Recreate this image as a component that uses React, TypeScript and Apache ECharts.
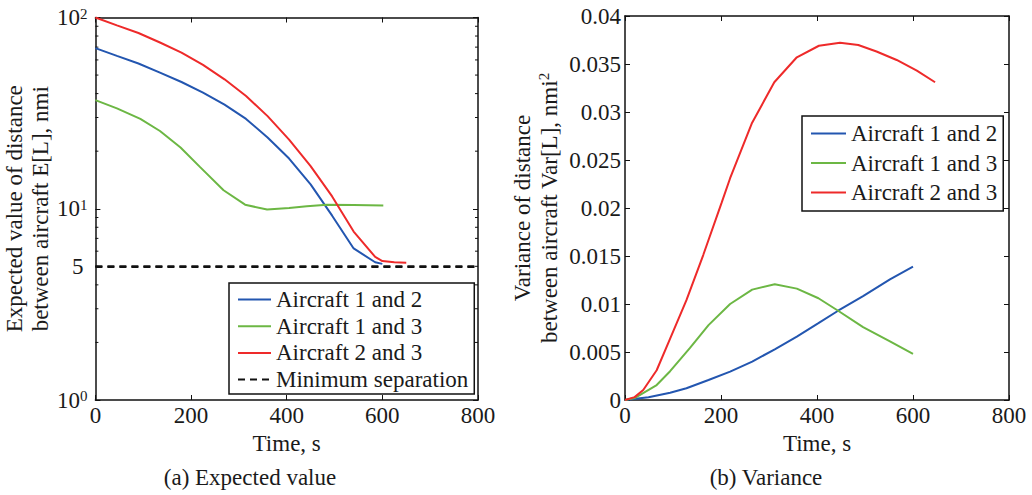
import { useEffect, useRef } from 'react';
import * as echarts from 'echarts';

const FONT = "'Liberation Serif', Times, serif";
const TXT = '#1a1a1a';

// ---- (a) Expected value (log scale) ----
const tBlueA = [0, 45, 90, 135, 180, 225, 270, 315, 360, 405, 450, 495, 540, 585, 600];
const eBlue = [69.2, 63, 57.5, 51.5, 46, 40.5, 35, 29.5, 23.6, 18.3, 13.4, 9.2, 6.2, 5.25, 5.15];
const tGreenA = [0, 45, 94, 135, 178, 219, 268, 313, 359, 405, 442, 484, 540, 602];
const eGreen = [37, 33.5, 29.5, 25.5, 20.9, 16.5, 12.5, 10.5, 9.9, 10.1, 10.3, 10.5, 10.45, 10.4];
const tRedA = [0, 45, 90, 135, 180, 225, 270, 315, 360, 405, 450, 495, 540, 585, 600, 625, 650];
const eRed = [100, 91, 83, 74, 65.5, 56.5, 47.5, 38.9, 30.5, 23, 16.7, 11.6, 7.6, 5.6, 5.33, 5.25, 5.22];
const minSepT = [0, 800];
const minSepV = [5, 5];
const logMinorTicks = [2, 3, 4, 5, 6, 7, 8, 9, 20, 30, 40, 50, 60, 70, 80, 90];

// ---- (b) Variance ----
const tBlueB = [0, 49, 94, 128, 174, 219, 265, 312, 358, 403, 444, 496, 552, 600];
const vBlue = [0, 0.00028, 0.00076, 0.00122, 0.00208, 0.00295, 0.004, 0.00528, 0.0066, 0.008, 0.0093, 0.01083, 0.01257, 0.01389];
const tGreenB = [0, 20, 66, 94, 135, 174, 219, 265, 312, 358, 403, 444, 496, 552, 600];
const vGreen = [0, 0.0002, 0.00156, 0.003, 0.0054, 0.0078, 0.01, 0.0115, 0.01205, 0.0116, 0.0106, 0.0093, 0.0076, 0.0061, 0.0048];
const tRedB = [0, 20, 38, 66, 94, 128, 163, 201, 219, 264, 311, 358, 404, 448, 486, 524, 566, 608, 646];
const vRed = [0, 0.0003, 0.00104, 0.0031, 0.0064, 0.0104, 0.0151, 0.0205, 0.0231, 0.0288, 0.0331, 0.0357, 0.0369, 0.03722, 0.03698, 0.0363, 0.03542, 0.0343, 0.0331];

const NAMES = ['Aircraft 1 and 2', 'Aircraft 1 and 3', 'Aircraft 2 and 3', 'Minimum separation'];
const COLORS = ['#2356b0', '#6cb744', '#ee2a2a', '#111111'];

const zip = (t: number[], v: number[]) => t.map((x, i) => [x, v[i]]);

const textBase = {
  fontFamily: FONT,
  fontSize: 23,
  color: TXT,
  fontWeight: 'normal',
  fontStyle: 'normal',
  textBorderWidth: 0,
  textBorderColor: 'transparent',
  textShadowBlur: 0,
};
const DASH = [7, 5];

function xAx(grid: number, top: boolean) {
  return {
    gridIndex: grid,
    type: 'value',
    position: top ? 'top' : 'bottom',
    min: 0,
    max: 800,
    interval: 200,
    axisLine: { show: true, onZero: false, lineStyle: { color: '#111', width: 1.5 } },
    axisTick: { show: true, inside: true, length: 5, lineStyle: { color: '#111', width: 1 } },
    axisLabel: { show: !top, margin: 4, ...textBase },
    splitLine: { show: false },
    name: top ? '' : 'Time, s',
    nameLocation: 'middle',
    nameGap: 27,
    nameTextStyle: textBase,
  };
}

const supRich = {
  base: { ...textBase, lineHeight: 23, verticalAlign: 'bottom', padding: [6, 0, 0, 0] },
  sup: { ...textBase, fontSize: 15, lineHeight: 15, verticalAlign: 'top' },
};

const legendCommon = {
  orient: 'vertical',
  itemHeight: 4,
  selectedMode: false,
  borderColor: '#111',
  borderWidth: 1.5,
  borderRadius: 0,
  backgroundColor: '#fff',
  itemStyle: { opacity: 0 },
  textStyle: { ...textBase },
};

const option: any = {
  animation: false,
  backgroundColor: '#fff',
  textStyle: { fontFamily: FONT },
  grid: [
    { left: 95, top: 17, width: 383, height: 383 },
    { left: 625, top: 16, width: 384, height: 384 },
  ],
  xAxis: [xAx(0, false), xAx(0, true), xAx(1, false), xAx(1, true)],
  yAxis: [
    {
      gridIndex: 0,
      type: 'log',
      logBase: 10,
      min: 1,
      max: 100,
      axisLine: { show: true, onZero: false, lineStyle: { color: '#111', width: 1.5 } },
      axisTick: { show: true, inside: true, length: 5, lineStyle: { color: '#111', width: 1 } },
      axisLabel: {
        margin: 8,
        ...textBase,
        formatter: (v: number) => '{base|10}{sup|' + Math.round(Math.log10(v)) + '}',
        rich: supRich,
      },
      splitLine: { show: false },
      name: 'Expected value of distance\nbetween aircraft E[L], nmi',
      nameLocation: 'middle',
      nameGap: 40,
      nameRotate: 90,
      nameTextStyle: { ...textBase, lineHeight: 26 },
    },
    {
      gridIndex: 0,
      type: 'log',
      logBase: 10,
      min: 1,
      max: 100,
      position: 'right',
      axisLine: { show: true, onZero: false, lineStyle: { color: '#111', width: 1.5 } },
      axisTick: { show: true, inside: true, length: 5, lineStyle: { color: '#111', width: 1 } },
      axisLabel: { show: false },
      splitLine: { show: false },
    },
    {
      gridIndex: 1,
      type: 'value',
      min: 0,
      max: 0.04,
      interval: 0.005,
      axisLine: { show: true, onZero: false, lineStyle: { color: '#111', width: 1.5 } },
      axisTick: { show: true, inside: true, length: 5, lineStyle: { color: '#111', width: 1 } },
      axisLabel: { margin: 4, ...textBase },
      splitLine: { show: false },
      name: 'Variance of distance\nbetween aircraft Var[L], nmi{sup|2}',
      nameLocation: 'middle',
      nameGap: 62,
      nameRotate: 90,
      nameTextStyle: {
        ...textBase,
        lineHeight: 27,
        rich: { sup: { ...textBase, fontSize: 15, lineHeight: 15, verticalAlign: 'top' } },
      },
    },
    {
      gridIndex: 1,
      type: 'value',
      min: 0,
      max: 0.04,
      interval: 0.005,
      position: 'right',
      axisLine: { show: true, onZero: false, lineStyle: { color: '#111', width: 1.5 } },
      axisTick: { show: true, inside: true, length: 5, lineStyle: { color: '#111', width: 1 } },
      axisLabel: { show: false },
      splitLine: { show: false },
    },
  ],
  legend: [
    {
      ...legendCommon,
      data: NAMES,
      left: 229,
      top: 283,
      padding: [5, 6, 3, 8],
      itemGap: 3.7,
      itemWidth: 33,
    },
    {
      ...legendCommon,
      data: NAMES.slice(0, 3),
      left: 802,
      top: 116,
      padding: [6, 6, 7, 8],
      itemGap: 6.5,
      itemWidth: 35,
    },
  ],
  graphic: [
    { type: 'text', x: 250, y: 477, style: { text: '(a) Expected value', font: "23px 'Liberation Serif'", fill: TXT, textAlign: 'center', textVerticalAlign: 'middle' } },
    { type: 'text', x: 766, y: 477, style: { text: '(b) Variance', font: "23px 'Liberation Serif'", fill: TXT, textAlign: 'center', textVerticalAlign: 'middle' } },
  ],
  series: [
    { name: NAMES[0], type: 'line', xAxisIndex: 0, yAxisIndex: 0, data: zip(tBlueA, eBlue), symbol: 'none', lineStyle: { color: COLORS[0], width: 2 }, itemStyle: { color: COLORS[0] } },
    { name: NAMES[1], type: 'line', xAxisIndex: 0, yAxisIndex: 0, data: zip(tGreenA, eGreen), symbol: 'none', lineStyle: { color: COLORS[1], width: 2 }, itemStyle: { color: COLORS[1] } },
    { name: NAMES[2], type: 'line', xAxisIndex: 0, yAxisIndex: 0, data: zip(tRedA, eRed), symbol: 'none', lineStyle: { color: COLORS[2], width: 2 }, itemStyle: { color: COLORS[2] } },
    {
      name: NAMES[3], type: 'line', xAxisIndex: 0, yAxisIndex: 0, data: zip(minSepT, minSepV), symbol: 'none',
      lineStyle: { color: COLORS[3], width: 2, type: DASH }, itemStyle: { color: COLORS[3] },
      markLine: {
        silent: true, symbol: 'none',
        lineStyle: { color: COLORS[3], width: 2, type: DASH },
        label: { show: true, position: 'start', formatter: '5', distance: 12, ...textBase },
        data: [{ yAxis: 5 }],
      },
    },
    {
      type: 'custom', xAxisIndex: 0, yAxisIndex: 0, silent: true,
      data: logMinorTicks.map((v) => [0, v]),
      renderItem: (_p: any, api: any) => {
        const v = api.value(1);
        const a = api.coord([0, v]);
        const b = api.coord([800, v]);
        return {
          type: 'group',
          children: [
            { type: 'line', shape: { x1: a[0], y1: a[1], x2: a[0] + 3, y2: a[1] }, style: { stroke: '#111', lineWidth: 1 } },
            { type: 'line', shape: { x1: b[0] - 3, y1: b[1], x2: b[0], y2: b[1] }, style: { stroke: '#111', lineWidth: 1 } },
          ],
        };
      },
    },
    { name: NAMES[0], type: 'line', xAxisIndex: 2, yAxisIndex: 2, data: zip(tBlueB, vBlue), symbol: 'none', lineStyle: { color: COLORS[0], width: 2 }, itemStyle: { color: COLORS[0] } },
    { name: NAMES[1], type: 'line', xAxisIndex: 2, yAxisIndex: 2, data: zip(tGreenB, vGreen), symbol: 'none', lineStyle: { color: COLORS[1], width: 2 }, itemStyle: { color: COLORS[1] } },
    { name: NAMES[2], type: 'line', xAxisIndex: 2, yAxisIndex: 2, data: zip(tRedB, vRed), symbol: 'none', lineStyle: { color: COLORS[2], width: 2 }, itemStyle: { color: COLORS[2] } },
  ],
};

export default function App() {
  const ref = useRef<HTMLDivElement>(null);
  useEffect(() => {
    const chart = echarts.init(ref.current!, null, { renderer: 'svg' });
    chart.setOption(option);
    return () => chart.dispose();
  }, []);
  return (
    <div
      ref={ref}
      style={{ position: 'fixed', left: 0, top: 0, width: 1032, height: 495, background: '#fff' }}
    />
  );
}
